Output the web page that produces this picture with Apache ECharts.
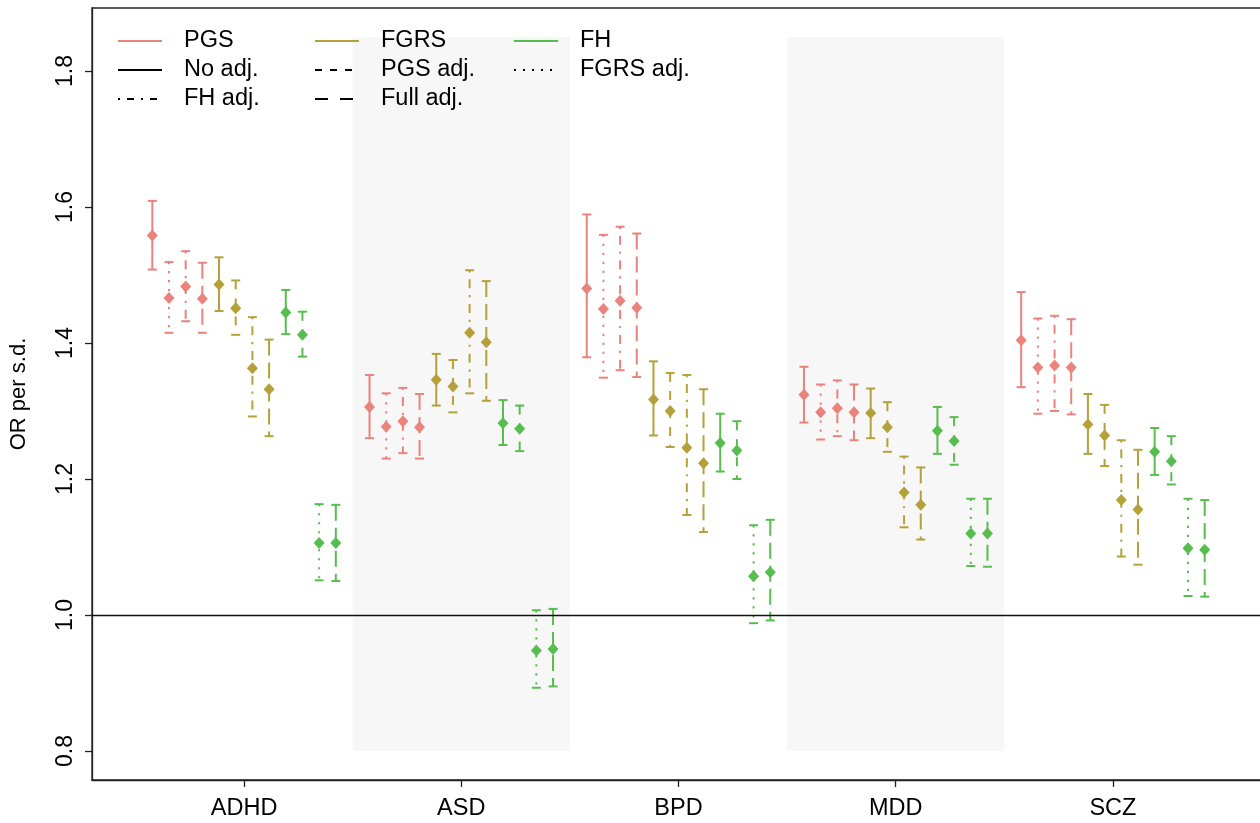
<!DOCTYPE html>
<html>
<head>
<meta charset="utf-8">
<script src="https://cdn.jsdelivr.net/npm/echarts@6/dist/echarts.min.js"></script>
<style>
  html, body { margin: 0; padding: 0; background: #fff; }
  #main { width: 1260px; height: 823px; }
</style>
</head>
<body>
<div id="main"></div>
<script>
// disorders on the x axis
const categories = ['ADHD', 'ASD', 'BPD', 'MDD', 'SCZ']
const yTicks = [0.8, 1.0, 1.2, 1.4, 1.6, 1.8]
const shadedGroups = ['ASD', 'MDD']

// [estimate, lower, upper] per disorder
const pgsNoAdj = [[1.558, 1.508, 1.609], [1.306, 1.260, 1.353], [1.480, 1.379, 1.589], [1.324, 1.283, 1.365], [1.404, 1.335, 1.475]]
const pgsFgrsAdj = [[1.466, 1.415, 1.519], [1.277, 1.230, 1.326], [1.450, 1.349, 1.559], [1.298, 1.258, 1.339], [1.364, 1.296, 1.436]]
const pgsFhAdj = [[1.483, 1.432, 1.535], [1.285, 1.238, 1.334], [1.462, 1.360, 1.571], [1.304, 1.263, 1.345], [1.367, 1.300, 1.440]]
const pgsFullAdj = [[1.465, 1.415, 1.518], [1.276, 1.230, 1.325], [1.452, 1.350, 1.561], [1.298, 1.257, 1.339], [1.364, 1.295, 1.435]]
const fgrsNoAdj = [[1.486, 1.447, 1.526], [1.346, 1.308, 1.384], [1.317, 1.264, 1.373], [1.297, 1.260, 1.333], [1.280, 1.237, 1.325]]
const fgrsPgsAdj = [[1.451, 1.412, 1.492], [1.336, 1.298, 1.375], [1.300, 1.247, 1.356], [1.276, 1.240, 1.313], [1.264, 1.219, 1.309]]
const fgrsFhAdj = [[1.363, 1.292, 1.438], [1.415, 1.326, 1.507], [1.246, 1.147, 1.353], [1.180, 1.129, 1.233], [1.169, 1.086, 1.257]]
const fgrsFullAdj = [[1.332, 1.263, 1.405], [1.401, 1.315, 1.491], [1.223, 1.122, 1.332], [1.162, 1.111, 1.217], [1.155, 1.074, 1.243]]
const fhNoAdj = [[1.445, 1.413, 1.478], [1.282, 1.250, 1.316], [1.253, 1.211, 1.296], [1.271, 1.237, 1.306], [1.240, 1.206, 1.275]]
const fhPgsAdj = [[1.412, 1.380, 1.446], [1.274, 1.241, 1.308], [1.242, 1.200, 1.285], [1.256, 1.221, 1.291], [1.226, 1.192, 1.263]]
const fhFgrsAdj = [[1.106, 1.051, 1.163], [0.948, 0.893, 1.007], [1.057, 0.988, 1.132], [1.120, 1.072, 1.171], [1.098, 1.028, 1.171]]
const fhFullAdj = [[1.106, 1.050, 1.162], [0.950, 0.895, 1.009], [1.063, 0.992, 1.140], [1.120, 1.071, 1.171], [1.096, 1.027, 1.169]]

const colors = { PGS: '#e9837b', FGRS: '#b6a03a', FH: '#58bd4f' }
const dashes = {
  'No adj.': null,
  'PGS adj.': [9, 9],
  'FGRS adj.': [2.2, 6.8],
  'FH adj.': [2.2, 6.8, 9, 6.8],
  'Full adj.': [16, 7]
}

// order of the 12 bars inside each disorder group
const bars = [
  { score: 'PGS', adj: 'No adj.', data: pgsNoAdj },
  { score: 'PGS', adj: 'FGRS adj.', data: pgsFgrsAdj },
  { score: 'PGS', adj: 'FH adj.', data: pgsFhAdj },
  { score: 'PGS', adj: 'Full adj.', data: pgsFullAdj },
  { score: 'FGRS', adj: 'No adj.', data: fgrsNoAdj },
  { score: 'FGRS', adj: 'PGS adj.', data: fgrsPgsAdj },
  { score: 'FGRS', adj: 'FH adj.', data: fgrsFhAdj },
  { score: 'FGRS', adj: 'Full adj.', data: fgrsFullAdj },
  { score: 'FH', adj: 'No adj.', data: fhNoAdj },
  { score: 'FH', adj: 'PGS adj.', data: fhPgsAdj },
  { score: 'FH', adj: 'FGRS adj.', data: fhFgrsAdj },
  { score: 'FH', adj: 'Full adj.', data: fhFullAdj }
]

const step = 0.0768
const capHalf = 4.5
const font = 'Liberation Sans, Arial, Helvetica, sans-serif'

function errorBarSeries (bar, i) {
  const offset = (i - 5.5) * step
  const color = colors[bar.score]
  const dash = dashes[bar.adj]
  return {
    name: bar.score + ' / ' + bar.adj,
    type: 'custom',
    z: 3,
    silent: true,
    data: bar.data.map((d, k) => [k + 1 + offset, d[0], d[1], d[2]]),
    renderItem (params, api) {
      const top = api.coord([api.value(0), api.value(3)])
      const bot = api.coord([api.value(0), api.value(2)])
      const mid = api.coord([api.value(0), api.value(1)])
      const x = top[0]
      const base = { stroke: color, lineWidth: 2, fill: null }
      return {
        type: 'group',
        children: [
          { type: 'line', shape: { x1: x, y1: top[1], x2: x, y2: bot[1] }, style: Object.assign({}, base, { lineDash: dash, lineCap: 'butt' }) },
          { type: 'line', shape: { x1: x - capHalf, y1: top[1], x2: x + capHalf, y2: top[1] }, style: base },
          { type: 'line', shape: { x1: x - capHalf, y1: bot[1], x2: x + capHalf, y2: bot[1] }, style: base },
          { type: 'polygon', shape: { points: [[x, mid[1] - 6], [x + 5.5, mid[1]], [x, mid[1] + 6], [x - 5.5, mid[1]]] }, style: { fill: color } }
        ]
      }
    }
  }
}

// empty line series only feed the legend
function legendSeries (name, color, type, width) {
  return {
    name,
    type: 'line',
    data: [],
    symbol: 'none',
    itemStyle: { color, opacity: 0 },
    lineStyle: { color, width: width || 2, type: type || 'solid' }
  }
}

const legendText = { fontSize: 23.5, color: '#000', fontFamily: font, padding: [0, 0, 0, 17] }
const legendBase = {
  orient: 'vertical',
  top: 24,
  itemWidth: 44,
  itemHeight: 14,
  itemGap: 5,
  selectedMode: false,
  itemStyle: { opacity: 0 },
  textStyle: legendText
}

const chart = echarts.init(document.getElementById('main'))
chart.setOption({
  animation: false,
  backgroundColor: '#fff',
  grid: {
    left: 92,
    width: 1173,
    top: 8,
    bottom: 43,
    outerBoundsMode: 'none',
    show: true,
    borderColor: '#222',
    borderWidth: 1.3
  },
  legend: [
    Object.assign({}, legendBase, { left: 112, data: ['PGS', 'No adj.', 'FH adj.'] }),
    Object.assign({}, legendBase, { left: 309, data: ['FGRS', 'PGS adj.', 'Full adj.'] }),
    Object.assign({}, legendBase, { left: 508, data: ['FH', 'FGRS adj.'] })
  ],
  xAxis: {
    type: 'value',
    min: 0.3,
    max: 5.7,
    splitLine: { show: false },
    axisLine: { lineStyle: { color: '#222', width: 1.3 } },
    axisTick: { customValues: [1, 2, 3, 4, 5], length: 7, lineStyle: { color: '#222', width: 1.3 } },
    axisLabel: {
      customValues: [1, 2, 3, 4, 5],
      formatter: v => categories[v - 1],
      color: '#000',
      fontSize: 23.5,
      fontFamily: font,
      margin: 17
    }
  },
  yAxis: {
    type: 'value',
    min: 0.7574,
    max: 1.8926,
    name: 'OR per s.d.',
    nameLocation: 'middle',
    nameGap: 62,
    nameRotate: 90,
    nameTextStyle: { fontSize: 22, color: '#000', fontFamily: font },
    splitLine: { show: false },
    axisLine: { show: true, lineStyle: { color: '#222', width: 1.3 } },
    axisTick: { show: true, customValues: yTicks, length: 7, lineStyle: { color: '#222', width: 1.3 } },
    axisLabel: {
      customValues: yTicks,
      formatter: v => v.toFixed(1),
      rotate: 90,
      color: '#000',
      fontSize: 23,
      fontFamily: font,
      margin: 15
    }
  },
  series: [
    {
      name: 'bands',
      type: 'line',
      data: [],
      z: 1,
      silent: true,
      markArea: {
        silent: true,
        itemStyle: { color: '#f7f7f7' },
        data: shadedGroups.map(g => {
          const c = categories.indexOf(g) + 1
          return [{ xAxis: c - 0.5, yAxis: 0.8 }, { xAxis: c + 0.5, yAxis: 1.85 }]
        })
      },
      markLine: {
        silent: true,
        symbol: 'none',
        label: { show: false },
        lineStyle: { color: '#111', width: 1.3, type: 'solid' },
        data: [{ yAxis: 1.0 }]
      }
    },
    legendSeries('PGS', colors.PGS, null, 3),
    legendSeries('FGRS', colors.FGRS, null, 3),
    legendSeries('FH', colors.FH, null, 3),
    legendSeries('No adj.', '#000'),
    legendSeries('PGS adj.', '#000', [7, 8]),
    legendSeries('FGRS adj.', '#000', [2, 7]),
    legendSeries('FH adj.', '#000', [2, 7, 7, 7]),
    legendSeries('Full adj.', '#000', [13, 12])
  ].concat(bars.map(errorBarSeries))
})
</script>
</body>
</html>
